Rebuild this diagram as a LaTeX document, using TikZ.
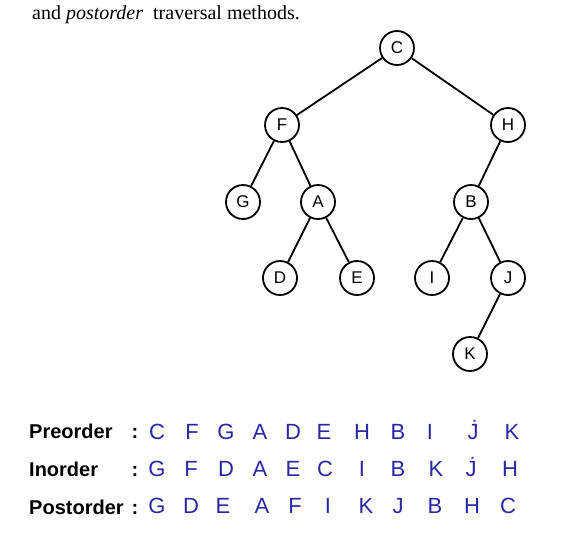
\documentclass[tikz,border=0pt]{standalone}
\usepackage{fontspec}
\setmainfont{Liberation Serif}
\newfontfamily\labfont{Liberation Sans}
\definecolor{ink}{RGB}{40,40,165}
\begin{document}
\begin{tikzpicture}[x=1pt,y=-1pt,
  tnode/.style={circle,draw=black,line width=1.8pt,minimum size=34pt,inner sep=0pt,
    font=\labfont\fontsize{17}{17}\selectfont},
  edge/.style={line width=1.8pt,black},
  lab/.style={anchor=base west,inner sep=0pt,font=\labfont\bfseries\fontsize{20}{20}\selectfont},
  colon/.style={anchor=base,inner sep=0pt,font=\labfont\bfseries\fontsize{20}{20}\selectfont},
  hw/.style={anchor=base,inner sep=0pt,text=ink,font=\labfont\fontsize{22}{22}\selectfont}]
\useasboundingbox[fill=white] (0,0) rectangle (570,547);
\node[anchor=base west,inner sep=0pt,font=\fontsize{20}{24}\selectfont] (hdr) at (32,19) {and \textit{postorder}\ \ traversal methods.};
% tree
\node[tnode] (C) at (397,48) {C};
\node[tnode] (F) at (282,125) {F};
\node[tnode] (H) at (508,125) {H};
\node[tnode] (G) at (243,202) {G};
\node[tnode] (A) at (318,202) {A};
\node[tnode] (B) at (471,202) {B};
\node[tnode] (D) at (280,278) {D};
\node[tnode] (E) at (357,278) {E};
\node[tnode] (I) at (432,278) {I};
\node[tnode] (J) at (508,278) {J};
\node[tnode] (K) at (470,354) {K};
\draw[edge] (C) -- (F);
\draw[edge] (C) -- (H);
\draw[edge] (F) -- (G);
\draw[edge] (F) -- (A);
\draw[edge] (H) -- (B);
\draw[edge] (A) -- (D);
\draw[edge] (A) -- (E);
\draw[edge] (B) -- (I);
\draw[edge] (B) -- (J);
\draw[edge] (J) -- (K);
% labels
\node[lab] (pre) at (29,438) {Preorder};
\node[lab] (ino) at (29,476) {Inorder};
\node[lab] (post) at (29,514) {Postorder};
\node[colon] (c1) at (135,438) {:};
\node[colon] (c2) at (135,476) {:};
\node[colon] (c3) at (135,514) {:};
% preorder
\foreach \x/\l [count=\i] in {157/C,192/F,226/G,260/A,293/D,324/E,362/H,398/B,430/I,473/\.{J},512/K}
  \node[hw] (p\i) at (\x,439) {\l};
% inorder
\foreach \x/\l [count=\i] in {157/G,191/F,226/D,260/A,293/E,325/C,362/I,398/B,436/K,471/\.{J},510/H}
  \node[hw] (n\i) at (\x,476) {\l};
% postorder
\foreach \x/\l [count=\i] in {157/G,191/D,223/E,262/A,295/F,328/I,366/K,398/J,435/B,472/H,508/C}
  \node[hw] (s\i) at (\x,513) {\l};
\end{tikzpicture}
\end{document}
